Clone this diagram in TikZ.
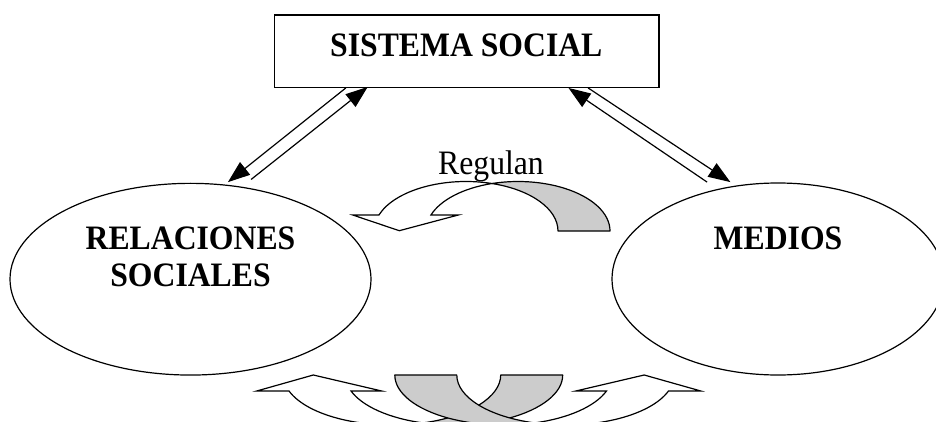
\documentclass[tikz,border=0pt]{standalone}
\usepackage{fontspec}
\setmainfont{Liberation Serif}
\usetikzlibrary{arrows.meta,calc,shapes.geometric}
\definecolor{bandgray}{RGB}{204,204,204}
% slightly taller lettering
\newcommand\tallword[1]{\scalebox{1}[1.08]{#1}}
\begin{document}
\begin{tikzpicture}[x=1pt,y=1pt,
  outline/.style={draw=black,line width=1.2pt},
  frame/.style={outline,rectangle,minimum width=384.6pt,minimum height=72.3pt,inner sep=0pt},
  oval/.style={outline,ellipse,inner sep=0pt},
  title/.style={font=\fontsize{31.7}{36.7}\selectfont\bfseries,anchor=base,inner sep=0pt},
  caption/.style={font=\fontsize{31.7}{36.7}\selectfont,anchor=base,inner sep=0pt},
  link/.style={line width=1.2pt,-{Triangle[length=22pt,width=16pt]}},
  back/.style={outline,fill=bandgray,line join=round},
  front/.style={outline,fill=white,line join=miter}
]
\path[use as bounding box] (0,0) rectangle (936,-422);
\clip (0,0) rectangle (936,-422);

% main blocks
\node[frame] (sys) at (466.6,-51.2) {};
\node[oval,minimum width=361pt,minimum height=191.7pt] (rel) at (190.5,-279.2) {};
\node[oval,minimum width=332pt,minimum height=192pt] (med) at (778,-279) {};

% labels
\node[title] (systxt) at (466.3,-56.7) {\tallword{SISTEMA SOCIAL}};
\node[title] (rel1) at (190.5,-249.3) {\tallword{RELACIONES}};
\node[title] (rel2) at (190.5,-286) {\tallword{SOCIALES}};
\node[title] (medtxt) at (778,-249.3) {\tallword{MEDIOS}};
\node[caption] (reg) at (491,-175) {\tallword{Regulan}};

% paired links between the social system and both ovals
\draw[link] ($(sys.south west)+(72.1,0)$) -- ($(rel.north)+(37.4,0.6)$);
\draw[link] ($(rel.north)+(60.6,3.3)$) -- ($(sys.south west)+(94,1)$);
\draw[link] ($(sys.south east)+(-71.4,0)$) -- ($(med.north)+(-47.6,0.3)$);
\draw[link] ($(med.north)+(-70.9,0.3)$) -- ($(sys.south east)+(-91,0)$);

% curved arrow under "Regulan": tail on the right, head pointing down-left
\draw[back] (610,-231)
  arc[start angle=0,end angle=106.42,x radius=92,y radius=49.5]
  arc[start angle=73.58,end angle=0,x radius=92,y radius=49.5] -- cycle;
\draw[front] ([shift={(518,-231)}]161.14:92 and 49.5)
  arc[start angle=161.14,end angle=106.42,x radius=92,y radius=49.5]
  arc[start angle=73.58,end angle=161.14,x radius=92,y radius=49.5]
  -- (352.7,-215) -- (399.3,-230.7) -- (458.3,-215) -- cycle;

% lower pair of crossing curved arrows
% tail on the right, head up on the left
\draw[front] ([shift={(454,-375)}]198.66:108.7 and 50)
  arc[start angle=198.66,end angle=253.43,x radius=108.7,y radius=50]
  arc[start angle=286.57,end angle=198.66,x radius=108.7,y radius=50]
  -- (256.7,-391) -- (313.3,-375) -- (381.7,-391) -- cycle;
\draw[back] (562.7,-375)
  arc[start angle=0,end angle=-106.57,x radius=108.7,y radius=50]
  arc[start angle=-73.43,end angle=0,x radius=108.7,y radius=50] -- cycle;
% tail on the left, head up on the right
\draw[front] ([shift={(503.5,-375)}]-18.66:108.7 and 50)
  arc[start angle=-18.66,end angle=-73.43,x radius=108.7,y radius=50]
  arc[start angle=-106.57,end angle=-18.66,x radius=108.7,y radius=50]
  -- (700.8,-391) -- (644.2,-375) -- (575.8,-391) -- cycle;
\draw[back] (394.8,-375)
  arc[start angle=180,end angle=286.57,x radius=108.7,y radius=50]
  arc[start angle=253.43,end angle=180,x radius=108.7,y radius=50] -- cycle;
\end{tikzpicture}
\end{document}
